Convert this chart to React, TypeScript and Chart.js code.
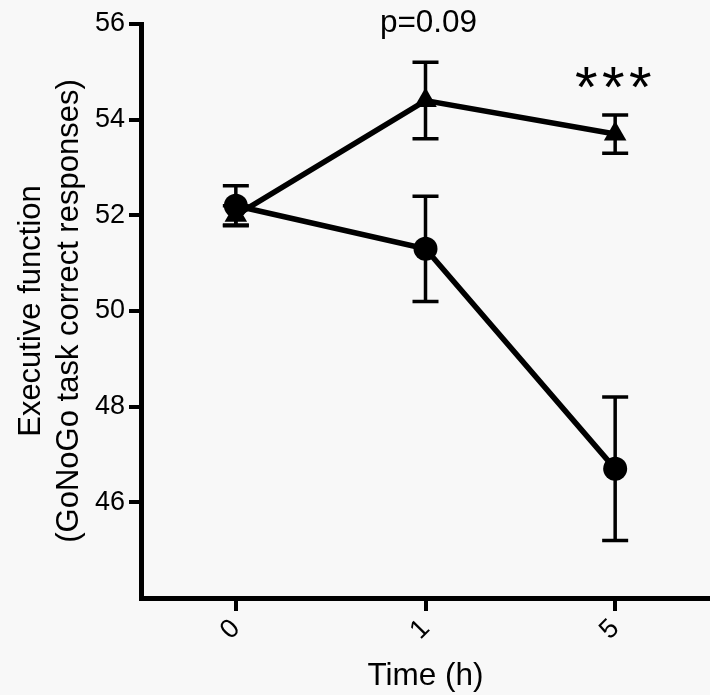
import React, { useEffect, useRef } from "react";
import { Chart, registerables } from "chart.js";

Chart.register(...registerables);

const categories = ["0", "1", "5"];
const circleMeans = [52.2, 51.3, 46.7];
const circleErrors = [0.42, 1.1, 1.5];
const triangleMeans = [52.0, 54.4, 53.7];
const triangleErrors = [0.2, 0.8, 0.4];
const yTicks = [46, 48, 50, 52, 54, 56];
const yMin = 44;
const yMax = 56;
const pLabel = "p=0.09";
const pLabelIndex = 1;
const starLabel = "*";
const starCount = 3;
const starIndex = 2;

const FONT = "'Liberation Sans', Arial, Helvetica, sans-serif";

const backgroundPlugin = {
  id: "bg",
  beforeDraw(chart: any) {
    const ctx = chart.ctx;
    ctx.save();
    ctx.fillStyle = "#f8f8f8";
    ctx.fillRect(0, 0, chart.width, chart.height);
    ctx.restore();
  },
};

const errorBarPlugin = {
  id: "errorBars",
  beforeDatasetsDraw(chart: any) {
    const ctx = chart.ctx;
    const xs = chart.scales.x;
    const ys = chart.scales.y;
    const sets: [number[], number[]][] = [
      [circleMeans, circleErrors],
      [triangleMeans, triangleErrors],
    ];
    ctx.save();
    ctx.strokeStyle = "#000";
    ctx.lineWidth = 3.5;
    sets.forEach(([m, e]) => {
      m.forEach((v, i) => {
        const px = xs.getPixelForValue(i);
        const top = ys.getPixelForValue(v + e[i]);
        const bot = ys.getPixelForValue(v - e[i]);
        ctx.beginPath();
        ctx.moveTo(px, top);
        ctx.lineTo(px, bot);
        ctx.moveTo(px - 13, top);
        ctx.lineTo(px + 13, top);
        ctx.moveTo(px - 13, bot);
        ctx.lineTo(px + 13, bot);
        ctx.stroke();
      });
    });
    ctx.restore();
  },
};

const annotationPlugin = {
  id: "annotations",
  afterDraw(chart: any) {
    const ctx = chart.ctx;
    const xs = chart.scales.x;
    const area = chart.chartArea;
    ctx.save();
    ctx.fillStyle = "#000";
    ctx.textAlign = "center";
    ctx.textBaseline = "alphabetic";
    ctx.font = `31.5px ${FONT}`;
    ctx.fillText(pLabel, xs.getPixelForValue(pLabelIndex) + 3, area.top + 8);
    ctx.font = `58px ${FONT}`;
    const sx = xs.getPixelForValue(starIndex) - 2;
    for (let k = 0; k < starCount; k++) {
      ctx.fillText(starLabel, sx + (k - (starCount - 1) / 2) * 27, area.top + 83);
    }
    ctx.restore();
  },
};

export default function App() {
  const ref = useRef<HTMLCanvasElement | null>(null);
  useEffect(() => {
    if (!ref.current) return;
    const chart = new Chart(ref.current, {
      type: "line",
      data: {
        labels: categories,
        datasets: [
          {
            data: circleMeans,
            borderColor: "#000",
            borderWidth: 5.5,
            pointStyle: "circle",
            pointRadius: 12,
            pointBackgroundColor: "#000",
            pointBorderColor: "#000",
            pointBorderWidth: 0,
            fill: false,
            tension: 0,
          },
          {
            data: triangleMeans,
            borderColor: "#000",
            borderWidth: 5.5,
            pointStyle: "triangle",
            pointRadius: 13,
            pointBackgroundColor: "#000",
            pointBorderColor: "#000",
            pointBorderWidth: 0,
            fill: false,
            tension: 0,
          },
        ],
      },
      options: {
        animation: false,
        responsive: false,
        devicePixelRatio: 1,
        layout: { autoPadding: false, padding: { top: 24, left: 0, right: 0, bottom: 0 } },
        plugins: { legend: { display: false }, tooltip: { enabled: false } },
        scales: {
          x: {
            type: "category",
            offset: true,
            border: { display: true, width: 5, color: "#000" },
            grid: {
              display: true,
              drawOnChartArea: false,
              drawTicks: true,
              tickLength: 13,
              tickWidth: 4,
              tickColor: "#000",
              color: "#000",
              lineWidth: 4,
            },
            ticks: {
              color: "#000",
              font: { family: FONT, size: 27 },
              minRotation: 45,
              maxRotation: 45,
              padding: 2,
            },
            title: {
              display: true,
              text: "Time (h)",
              color: "#000",
              font: { family: FONT, size: 31.5 },
              padding: { top: 0, bottom: 0 },
            },
            afterFit: (s: any) => {
              s.height = 97;
              s.paddingLeft = 0;
              s.paddingRight = 0;
            },
          },
          y: {
            type: "linear",
            min: yMin,
            max: yMax,
            afterBuildTicks: (s: any) => {
              s.ticks = yTicks.map((v) => ({ value: v }));
            },
            border: { display: true, width: 5, color: "#000" },
            grid: {
              display: true,
              drawOnChartArea: false,
              drawTicks: true,
              tickLength: 12,
              tickWidth: 4,
              tickColor: "#000",
              color: "#000",
              lineWidth: 4,
            },
            ticks: {
              color: "#000",
              font: { family: FONT, size: 27 },
              padding: 4,
            },
            title: {
              display: true,
              text: ["Executive function", "(GoNoGo task correct responses)"],
              color: "#000",
              font: { family: FONT, size: 31, lineHeight: 1.23 },
              padding: { top: 12, bottom: 0 },
            },
            afterFit: (s: any) => {
              s.width = 141;
              s.paddingTop = 0;
              s.paddingBottom = 0;
            },
          },
        },
      },
      plugins: [backgroundPlugin, errorBarPlugin, annotationPlugin],
    } as any);
    return () => chart.destroy();
  }, []);
  return (
    <div style={{ position: "absolute", left: 0, top: 0, width: 710, height: 695, background: "#f8f8f8" }}>
      <canvas ref={ref} width={710} height={695} style={{ display: "block" }} />
    </div>
  );
}
